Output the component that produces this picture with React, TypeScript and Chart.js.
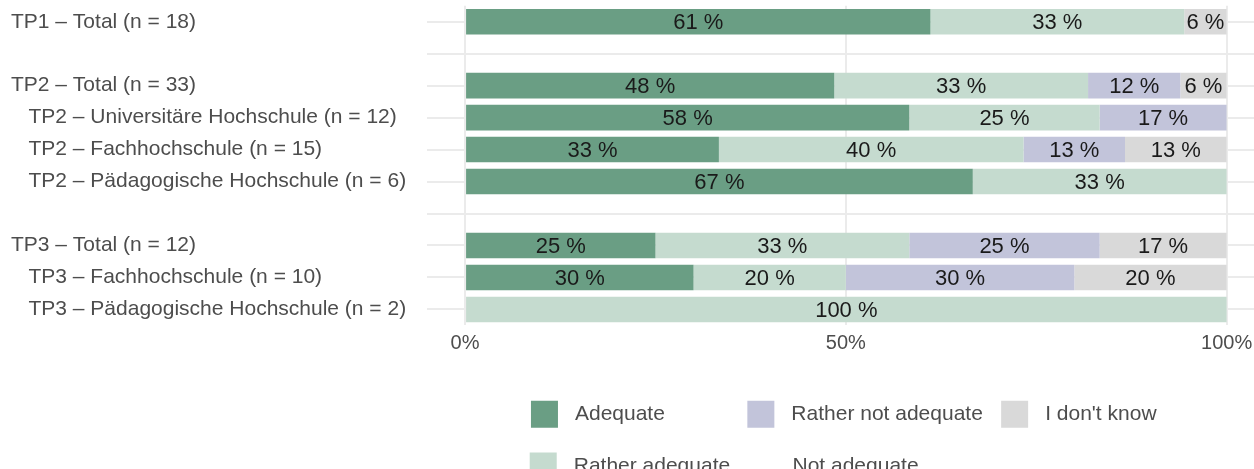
import React, { useEffect, useRef } from "react";
import { Chart, registerables } from "chart.js";

Chart.register(...registerables);

const FONT = "'Liberation Sans', Arial, sans-serif";

// Row labels (blank strings are the spacer rows between groups)
const categories = [
  "TP1 – Total (n = 18)",
  "",
  "TP2 – Total (n = 33)",
  "   TP2 – Universitäre Hochschule (n = 12)",
  "   TP2 – Fachhochschule (n = 15)",
  "   TP2 – Pädagogische Hochschule (n = 6)",
  "",
  "TP3 – Total (n = 12)",
  "   TP3 – Fachhochschule (n = 10)",
  "   TP3 – Pädagogische Hochschule (n = 2)",
];

const seriesNames = ["Adequate", "Rather adequate", "Rather not adequate", "Not adequate", "I don't know"];

// Shares in percent
const adequate = [61.11, null, 48.48, 58.33, 33.33, 66.67, null, 25, 30, 0];
const ratherAdequate = [33.33, null, 33.33, 25, 40, 33.33, null, 33.33, 20, 100];
const ratherNotAdequate = [0, null, 12.12, 16.67, 13.33, 0, null, 25, 30, 0];
const notAdequate = [0, null, 0, 0, 0, 0, null, 0, 0, 0];
const dontKnow = [5.56, null, 6.06, 0, 13.33, 0, null, 16.67, 20, 0];

const seriesColors = ["#6a9e84", "#c5dbcf", "#c2c4da", "#ffffff", "#d9d9d9"];

const xTickValues = [0, 50, 100];

// legend order (two rows, column-wise as in the original)
const legendOrder = [0, 2, 4, 1, 3];

const seriesData = [adequate, ratherAdequate, ratherNotAdequate, notAdequate, dontKnow];

const LEG_BOX = 40;
const LEG_STROKE = 13;
const LEG_PAD = 11.8;
const LEG_FS = 21;

const segmentLabels = {
  id: "segmentLabels",
  afterDatasetsDraw(chart: any) {
    const ctx = chart.ctx;
    ctx.save();
    ctx.font = `22px ${FONT}`;
    ctx.fillStyle = "#1a1a1a";
    ctx.textAlign = "center";
    ctx.textBaseline = "middle";
    chart.data.datasets.forEach((ds: any, i: number) => {
      const meta = chart.getDatasetMeta(i);
      meta.data.forEach((bar: any, j: number) => {
        const v = ds.data[j];
        if (!v) return;
        const { x, y, base } = bar.getProps(["x", "y", "base"], true);
        ctx.fillText(Math.round(v) + " %", (x + base) / 2, y + 1.5);
      });
    });
    ctx.restore();
  },
};

function padTo(ctx: CanvasRenderingContext2D, text: string, target: number) {
  let t = text;
  for (let k = 0; k < 200; k++) {
    const cur = Math.abs(ctx.measureText(t).width - target);
    const nxt = Math.abs(ctx.measureText(t + " ").width - target);
    if (nxt < cur) t += " ";
    else break;
  }
  return t;
}

export default function App() {
  const ref = useRef<HTMLCanvasElement | null>(null);

  useEffect(() => {
    if (!ref.current) return;
    const chart = new Chart(ref.current, {
      type: "bar",
      data: {
        labels: categories,
        datasets: seriesNames.map((name, i) => ({
          label: name,
          data: seriesData[i] as any,
          backgroundColor: seriesColors[i],
          borderWidth: 0,
          barPercentage: 0.8,
          categoryPercentage: 1,
        })),
      },
      options: {
        indexAxis: "y",
        responsive: true,
        maintainAspectRatio: false,
        animation: false,
        layout: { padding: { left: 11, top: 5.72, right: 0, bottom: 0 } },
        scales: {
          x: {
            stacked: true,
            min: -5,
            max: 103.6,
            grid: { color: "#ebebeb", lineWidth: 2, drawTicks: false },
            border: { display: false },
            ticks: {
              padding: 6,
              color: "#4d4d4d",
              font: { family: FONT, size: 20 },
              callback: (v: any) => v + "%",
            },
            afterBuildTicks: (s: any) => {
              s.ticks = xTickValues.map((v) => ({ value: v }));
            },
            afterFit: (s: any) => {
              s.height = 57;
              s.paddingLeft = 0;
              s.paddingRight = 0;
            },
          },
          y: {
            stacked: true,
            grid: { color: "#ebebeb", lineWidth: 2, drawTicks: false, offset: false },
            border: { display: false },
            ticks: {
              crossAlign: "far",
              autoSkip: false,
              padding: 0,
              color: "#4d4d4d",
              font: { family: FONT, size: 21 },
            },
            afterFit: (s: any) => {
              s.width = 416;
              s.paddingTop = 0;
              s.paddingBottom = 0;
            },
          },
        },
        plugins: {
          tooltip: { enabled: false },
          legend: {
            position: "bottom",
            fullSize: false,
            align: "center",
            labels: {
              boxWidth: LEG_BOX,
              boxHeight: LEG_BOX,
              padding: LEG_PAD,
              color: "#4d4d4d",
              font: { family: FONT, size: LEG_FS },
              generateLabels: (ch: any) => {
                const ctx = ch.ctx as CanvasRenderingContext2D;
                ctx.save();
                ctx.font = `${LEG_FS}px ${FONT}`;
                const w = (t: string) => ctx.measureText(t).width;
                const extra = LEG_BOX + LEG_FS / 2 + LEG_PAD;
                const texts = seriesNames.slice();
                texts[0] = padTo(ctx, seriesNames[0], w(seriesNames[1]));
                texts[3] = padTo(ctx, seriesNames[3], w(seriesNames[2]) + w(seriesNames[4]) + extra);
                ctx.restore();
                return legendOrder.map((i) => ({
                  text: texts[i],
                  fillStyle: seriesColors[i],
                  strokeStyle: "#ffffff",
                  lineWidth: LEG_STROKE,
                  lineJoin: "miter",
                  hidden: false,
                  datasetIndex: i,
                  fontColor: "#4d4d4d",
                }));
              },
            },
          },
        },
      },
      plugins: [segmentLabels],
    } as any);
    return () => chart.destroy();
  }, []);

  return (
    <div
      style={{
        position: "fixed",
        left: 0,
        top: 0,
        width: 1254,
        height: 469,
        overflow: "hidden",
        background: "#ffffff",
      }}
    >
      <div style={{ position: "relative", width: 1254, height: 496 }}>
        <canvas ref={ref} />
      </div>
    </div>
  );
}
